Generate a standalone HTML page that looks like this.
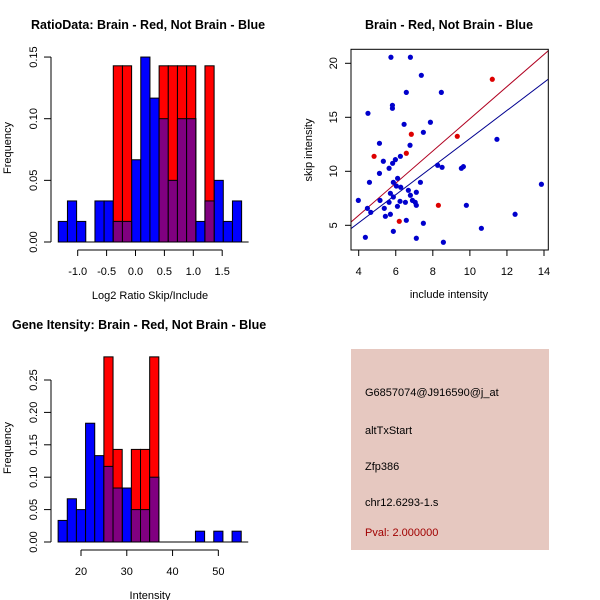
<!DOCTYPE html>
<html><head><meta charset="utf-8"><style>
html,body{margin:0;padding:0;background:#fff}
svg{display:block;font-family:"Liberation Sans",sans-serif}
</style></head><body>
<svg id="c" width="600" height="600" xmlns="http://www.w3.org/2000/svg">
<rect x="0" y="0" width="600" height="600" fill="#fff"/>
<text x="31" y="29" font-size="12.5" font-weight="bold">RatioData: Brain - Red, Not Brain - Blue</text>
<text x="449" y="29" font-size="12.5" font-weight="bold" text-anchor="middle">Brain - Red, Not Brain - Blue</text>
<text x="12" y="329" font-size="12.5" font-weight="bold">Gene Itensity: Brain - Red, Not Brain - Blue</text>
<g>
<rect x="351" y="349" width="198" height="201" fill="#e6c8c0"/>
<text x="365" y="396" font-size="11">G6857074@J916590@j_at</text>
<text x="365" y="434" font-size="11">altTxStart</text>
<text x="365" y="470" font-size="11">Zfp386</text>
<text x="365" y="506" font-size="11">chr12.6293-1.s</text>
<text x="365" y="536" font-size="11" fill="#a00000">Pval: 2.000000</text>
</g>
</svg>
<script>
const ratioBinStart = -1.336, ratioBinWidth = 0.1586;
const ratioBlue = [0.0167,0.0333,0.0167,0,0.0333,0.0333,0.0167,0.0167,0.0667,0.15,0.1167,0.10,0.05,0.10,0.10,0.0167,0.0333,0.05,0.0167,0.0333];
const ratioRed  = [0,0,0,0,0,0,0.1429,0.1429,0,0,0,0.1429,0.1429,0.1429,0.1429,0,0.1429,0,0,0];
const ratioXTicks = [-1.0,-0.5,0.0,0.5,1.0,1.5];
const ratioXLabels = ["-1.0","-0.5","0.0","0.5","1.0","1.5"];
const ratioYTicks = [0,0.05,0.10,0.15];
const ratioYLabels = ["0.00","0.05","0.10","0.15"];

const intBinStart = 15, intBinWidth = 2;
const intBlue = [0.0333,0.0667,0.05,0.1833,0.1333,0.1167,0.0833,0.0833,0.05,0.05,0.10,0,0,0,0,0.0167,0,0.0167,0,0.0167];
const intRed  = [0,0,0,0,0,0.2857,0.1429,0,0.1429,0.1429,0.2857,0,0,0,0,0,0,0,0,0];
const intXTicks = [20,30,40,50];
const intXLabels = ["20","30","40","50"];
const intYTicks = [0,0.05,0.10,0.15,0.20,0.25];
const intYLabels = ["0.00","0.05","0.10","0.15","0.20","0.25"];

const blueX = [5.74,6.79,7.38,6.57,8.46,5.82,5.82,4.50,6.45,7.87,7.49,11.46,5.12,6.77,5.33,5.98,6.25,5.83,5.64,5.12,8.26,8.50,9.54,9.65,4.58,5.87,6.10,6.03,6.27,7.33,5.71,5.87,6.68,6.79,7.11,13.86,3.98,5.15,5.64,6.23,6.52,6.90,7.05,7.11,6.09,4.47,4.65,5.38,5.44,5.71,9.81,12.44,6.57,7.49,10.62,5.87,4.36,7.11,8.57];
const blueY = [20.56,20.56,18.89,17.31,17.31,16.11,15.83,15.37,14.35,14.54,13.61,12.96,12.59,12.41,10.93,11.08,11.39,10.74,10.28,9.81,10.56,10.37,10.28,10.43,8.98,8.98,9.35,8.64,8.52,8.98,7.96,7.62,8.24,7.78,8.06,8.80,7.31,7.31,7.13,7.22,7.13,7.31,7.13,6.85,6.76,6.57,6.20,6.57,5.83,6.02,6.85,6.02,5.46,5.19,4.72,4.44,3.89,3.80,3.43];
const redX = [11.21,6.84,9.32,4.83,6.57,8.30,6.19];
const redY = [18.52,13.43,13.24,11.39,11.67,6.85,5.37];
const lineSlopes = [1.49,1.30];
const lineIntercepts = [-0.04,0.03];
const lineColors = ["#b00020","#000090"];
const scXTicks = [4,6,8,10,12,14];
const scYTicks = [5,10,15,20];

const svg = document.getElementById('c');
const NS = 'http://www.w3.org/2000/svg';
function mk(tag, attrs, parent){
  const e = document.createElementNS(NS, tag);
  for (const k in attrs) e.setAttribute(k, attrs[k]);
  (parent||svg).appendChild(e);
  return e;
}

function histogram(name, x0px, pxPerUnit, binStart, binW, y0px, pxPerY, blue, red, xt, xl, yt, yl, xtitle, ytitleY){
  const g = mk('g', {});
  
  
  const sx = v => x0px + (v - xt[0]) * pxPerUnit;
  const sy = v => y0px - v * pxPerY;
  for (let i = 0; i < blue.length; i++){
    const a = sx(binStart + i*binW), b = sx(binStart + (i+1)*binW);
    if (blue[i] > 0){
      const r = mk('rect', {x:a, y:sy(blue[i]), width:b-a, height:sy(0)-sy(blue[i]), fill:'#0000ff', stroke:'#000', 'stroke-width':1}, g);
      
      
    }
  }
  for (let i = 0; i < red.length; i++){
    const a = sx(binStart + i*binW), b = sx(binStart + (i+1)*binW);
    if (red[i] > 0){
      const r = mk('rect', {x:a, y:sy(red[i]), width:b-a, height:sy(0)-sy(red[i]), fill:'#ff0000', stroke:'#000', 'stroke-width':1}, g);
      
      
      const m = Math.min(red[i], blue[i]);
      if (m > 0){
        const p = mk('rect', {x:a, y:sy(m), width:b-a, height:sy(0)-sy(m), fill:'#800080', stroke:'#000', 'stroke-width':1}, g);
        
        
      }
    }
  }
  const axEnd = sx(binStart + blue.length*binW);
  mk('line', {x1:sx(binStart), x2:axEnd+7, y1:y0px, y2:y0px, stroke:'#000'}, g);
  const yaxis = mk('g', {}, g);
  
  
  mk('line', {x1:51, x2:51, y1:sy(yt[0]), y2:sy(yt[yt.length-1]), stroke:'#000'}, yaxis);
  yt.forEach((v,i)=>{
    mk('line', {x1:44, x2:51, y1:sy(v), y2:sy(v), stroke:'#000'}, yaxis);
    const t = mk('text', {x:0, y:0, 'font-size':11, 'text-anchor':'middle', transform:`translate(37,${sy(v)}) rotate(-90)`}, yaxis);
    t.textContent = yl[i];
    
    
  });
  const xaxis = mk('g', {}, g);
  
  
  const ya = y0px + 8;
  mk('line', {x1:sx(xt[0]), x2:sx(xt[xt.length-1]), y1:ya, y2:ya, stroke:'#000'}, xaxis);
  xt.forEach((v,i)=>{
    mk('line', {x1:sx(v), x2:sx(v), y1:ya, y2:ya+6, stroke:'#000'}, xaxis);
    const t = mk('text', {x:sx(v), y:ya+25, 'font-size':11, 'text-anchor':'middle'}, xaxis);
    t.textContent = xl[i];
    
    
  });
  const xt2 = mk('text', {x:150, y:y0px+57, 'font-size':11, 'text-anchor':'middle'}, g);
  xt2.textContent = xtitle;
  
  
  const yt2 = mk('text', {x:0, y:0, 'font-size':11, 'text-anchor':'middle', transform:`translate(11,${ytitleY}) rotate(-90)`}, g);
  yt2.textContent = 'Frequency';
  
  
}

histogram('ratio-histogram', 77.7, 57.8, ratioBinStart, ratioBinWidth, 242, 1233, ratioBlue, ratioRed, ratioXTicks, ratioXLabels, ratioYTicks, ratioYLabels, 'Log2 Ratio Skip/Include', 148);
histogram('intensity-histogram', 81, 4.578, intBinStart, intBinWidth, 542, 648, intBlue, intRed, intXTicks, intXLabels, intYTicks, intYLabels, 'Intensity', 448);

(function(){
  const g = mk('g', {});
  
  
  const L=351, R=548.3, T=49.3, B=250;
  const sx = v => 358.7 + (v-4)*18.53;
  const sy = v => 225.3 - (v-5)*10.8;
  const clip = mk('clipPath', {id:'sc'}, g);
  mk('rect', {x:L, y:T, width:R-L, height:B-T}, clip);
  for (let k=0;k<lineSlopes.length;k++){
    const xa = 3.55, xb = 14.3;
    const l = mk('line', {x1:sx(xa), y1:sy(lineSlopes[k]*xa+lineIntercepts[k]), x2:sx(xb), y2:sy(lineSlopes[k]*xb+lineIntercepts[k]), stroke:lineColors[k], 'stroke-width':1, 'clip-path':'url(#sc)'}, g);
    
    
  }
  for (let i=0;i<blueX.length;i++){
    const c = mk('circle', {cx:sx(blueX[i]), cy:sy(blueY[i]), r:2.6, fill:'#0000cc'}, g);
    
    
  }
  for (let i=0;i<redX.length;i++){
    const c = mk('circle', {cx:sx(redX[i]), cy:sy(redY[i]), r:2.6, fill:'#dd0000'}, g);
    
    
  }
  mk('rect', {x:L, y:T, width:R-L, height:B-T, fill:'none', stroke:'#000'}, g);
  scXTicks.forEach(v=>{
    mk('line', {x1:sx(v), x2:sx(v), y1:B, y2:B+6, stroke:'#000'}, g);
    const t = mk('text', {x:sx(v), y:B+25, 'font-size':11, 'text-anchor':'middle'}, g);
    t.textContent = String(v);
    
    
  });
  scYTicks.forEach(v=>{
    mk('line', {x1:L-6, x2:L, y1:sy(v), y2:sy(v), stroke:'#000'}, g);
    const t = mk('text', {x:0, y:0, 'font-size':11, 'text-anchor':'middle', transform:`translate(337,${sy(v)}) rotate(-90)`}, g);
    t.textContent = String(v);
    
    
  });
  const xt = mk('text', {x:449, y:298, 'font-size':11, 'text-anchor':'middle'}, g);
  xt.textContent = 'include intensity';
  
  
  const yt = mk('text', {x:0, y:0, 'font-size':11, 'text-anchor':'middle', transform:'translate(312,150) rotate(-90)'}, g);
  yt.textContent = 'skip intensity';
  
  
})();
</script>
</body></html>
